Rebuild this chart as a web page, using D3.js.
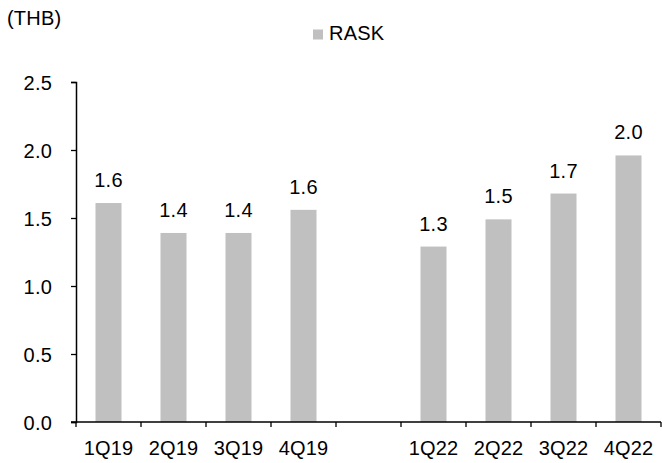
<!DOCTYPE html>
<html>
<head>
<meta charset="utf-8">
<script src="https://cdn.jsdelivr.net/npm/d3@7/dist/d3.min.js"></script>
<style>
  html, body { margin: 0; padding: 0; background: #fff; }
  svg text { font-family: "Liberation Sans", Arial, sans-serif; fill: #000; }
</style>
</head>
<body>
<svg id="chart" width="662" height="463"></svg>
<script>
// Quarterly RASK (THB); the empty slot separates 2019 from 2022
const categories = ["1Q19", "2Q19", "3Q19", "4Q19", "", "1Q22", "2Q22", "3Q22", "4Q22"];
const rask = [1.61, 1.39, 1.39, 1.56, null, 1.29, 1.49, 1.68, 1.96];
const yTicks = [0, 0.5, 1.0, 1.5, 2.0, 2.5];
const seriesName = "RASK";
const unitLabel = "(THB)";

const svg = d3.select("#chart");
const margin = { left: 76, right: 1, top: 82, bottom: 41 };
const W = 662, H = 463;
const fontSize = 20;
const spacing = "0.2px";
const barColor = "#c0c0c0";

const xb = d3.scaleBand()
  .domain(categories.map((c, i) => i))
  .range([margin.left, W - margin.right]);
const barW = xb.bandwidth() * 0.4;

const y = d3.scaleLinear()
  .domain([0, 2.5])
  .range([H - margin.bottom, margin.top]);

const data = categories.map((c, i) => ({ i, c, v: rask[i] })).filter(d => d.v != null);
const cx = i => xb(i) + xb.bandwidth() / 2;

// bars
svg.append("g").selectAll("rect")
  .data(data)
  .join("rect")
  .attr("x", d => cx(d.i) - barW / 2)
  .attr("width", barW)
  .attr("y", d => y(d.v))
  .attr("height", d => y(0) - y(d.v))
  .attr("fill", barColor);

// value labels
svg.append("g").selectAll("text")
  .data(data)
  .join("text")
  .attr("x", d => cx(d.i))
  .attr("y", d => y(d.v) - 16)
  .attr("text-anchor", "middle")
  .style("font-size", fontSize + "px")
  .style("letter-spacing", spacing)
  .text(d => d3.format(".1f")(d.v));

// y axis
const yAxis = svg.append("g")
  .attr("transform", `translate(${margin.left},0)`)
  .call(d3.axisLeft(y).tickValues(yTicks).tickFormat(d3.format(".1f")).tickSize(5).tickPadding(19));
yAxis.select(".domain").attr("stroke", "#000").attr("stroke-width", 1.5);
yAxis.selectAll(".tick line").attr("stroke", "#000").attr("stroke-width", 1.3);
yAxis.selectAll("text")
  .attr("font-family", null)
  .attr("font-size", null)
  .style("font-size", fontSize + "px")
  .style("letter-spacing", spacing)
  .attr("dy", "0.36em");

// x axis: ticks on category boundaries, labels centred in each band
const bounds = categories.map((c, i) => xb(i)).concat([W - margin.right]);
const xg = svg.append("g");
xg.append("line")
  .attr("x1", margin.left - 5).attr("x2", W - margin.right)
  .attr("y1", y(0)).attr("y2", y(0))
  .attr("stroke", "#000").attr("stroke-width", 1.5);
xg.selectAll("line.tick")
  .data(bounds)
  .join("line")
  .attr("class", "tick")
  .attr("x1", d => d).attr("x2", d => d)
  .attr("y1", y(0)).attr("y2", y(0) + 5)
  .attr("stroke", "#000").attr("stroke-width", 1.3);
xg.selectAll("text")
  .data(categories.map((c, i) => ({ c, i })).filter(d => d.c))
  .join("text")
  .attr("x", d => cx(d.i))
  .attr("y", y(0) + 33)
  .attr("text-anchor", "middle")
  .style("font-size", fontSize + "px")
  .style("letter-spacing", spacing)
  .text(d => d.c);

// unit label
svg.append("text")
  .attr("x", 7).attr("y", 25)
  .style("font-size", fontSize + "px")
  .style("letter-spacing", spacing)
  .text(unitLabel);

// legend
const lg = svg.append("g");
lg.append("rect")
  .attr("x", 313).attr("y", 29.5).attr("width", 10).attr("height", 10)
  .attr("fill", barColor);
lg.append("text")
  .attr("x", 329).attr("y", 40)
  .style("font-size", fontSize + "px")
  .style("letter-spacing", spacing)
  .text(seriesName);
</script>
</body>
</html>
